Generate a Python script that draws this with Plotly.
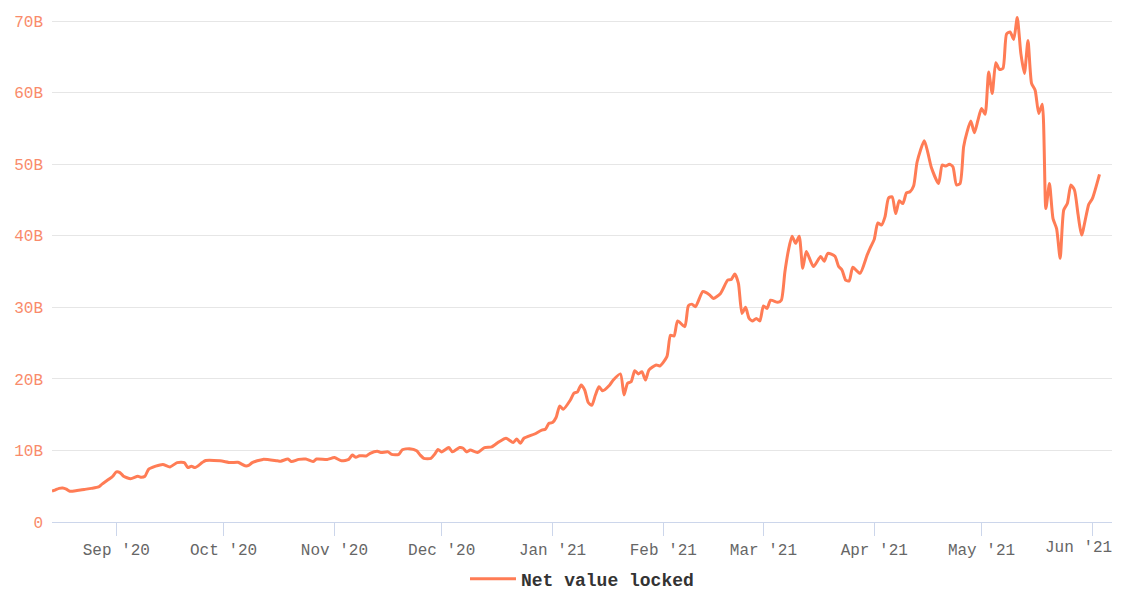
import plotly.graph_objects as go

dates = [
    "2020-08-14", "2020-08-15", "2020-08-16", "2020-08-17", "2020-08-18", "2020-08-19",
    "2020-08-21", "2020-08-23", "2020-08-25", "2020-08-27", "2020-08-28", "2020-08-30",
    "2020-08-31", "2020-09-01", "2020-09-02", "2020-09-03", "2020-09-05", "2020-09-07",
    "2020-09-08", "2020-09-09", "2020-09-10", "2020-09-12", "2020-09-14", "2020-09-16",
    "2020-09-18", "2020-09-20", "2020-09-21", "2020-09-22", "2020-09-23", "2020-09-25",
    "2020-09-26", "2020-09-30", "2020-10-03", "2020-10-05", "2020-10-07", "2020-10-08",
    "2020-10-09", "2020-10-12", "2020-10-16", "2020-10-17", "2020-10-19", "2020-10-20",
    "2020-10-22", "2020-10-24", "2020-10-26", "2020-10-27", "2020-10-30", "2020-11-01",
    "2020-11-03", "2020-11-05", "2020-11-06", "2020-11-07", "2020-11-08", "2020-11-10",
    "2020-11-11", "2020-11-13", "2020-11-14", "2020-11-16", "2020-11-17", "2020-11-19",
    "2020-11-20", "2020-11-22", "2020-11-24", "2020-11-25", "2020-11-26", "2020-11-28",
    "2020-11-29", "2020-11-30", "2020-12-01", "2020-12-03", "2020-12-04", "2020-12-06",
    "2020-12-07", "2020-12-08", "2020-12-09", "2020-12-11", "2020-12-13", "2020-12-15",
    "2020-12-17", "2020-12-19", "2020-12-21", "2020-12-22", "2020-12-23", "2020-12-24",
    "2020-12-27", "2020-12-29", "2020-12-30", "2020-12-31", "2021-01-01", "2021-01-02",
    "2021-01-03", "2021-01-04", "2021-01-06", "2021-01-07", "2021-01-08", "2021-01-09",
    "2021-01-10", "2021-01-11", "2021-01-12", "2021-01-13", "2021-01-14", "2021-01-15",
    "2021-01-17", "2021-01-18", "2021-01-20", "2021-01-21", "2021-01-22", "2021-01-23",
    "2021-01-24", "2021-01-25", "2021-01-26", "2021-01-27", "2021-01-28", "2021-01-30",
    "2021-01-31", "2021-02-02", "2021-02-03", "2021-02-04", "2021-02-05", "2021-02-07",
    "2021-02-08", "2021-02-09", "2021-02-10", "2021-02-12", "2021-02-13", "2021-02-14",
    "2021-02-15", "2021-02-17", "2021-02-19", "2021-02-20", "2021-02-21", "2021-02-22",
    "2021-02-23", "2021-02-24", "2021-02-25", "2021-02-26", "2021-02-27", "2021-02-28",
    "2021-03-01", "2021-03-02", "2021-03-03", "2021-03-05", "2021-03-06", "2021-03-07",
    "2021-03-08", "2021-03-09", "2021-03-10", "2021-03-11", "2021-03-12", "2021-03-13",
    "2021-03-15", "2021-03-17", "2021-03-18", "2021-03-19", "2021-03-21", "2021-03-22",
    "2021-03-23", "2021-03-24", "2021-03-25", "2021-03-26", "2021-03-28", "2021-03-30",
    "2021-03-31", "2021-04-01", "2021-04-02", "2021-04-03", "2021-04-04", "2021-04-05",
    "2021-04-06", "2021-04-07", "2021-04-08", "2021-04-09", "2021-04-10", "2021-04-11",
    "2021-04-12", "2021-04-13", "2021-04-15", "2021-04-16", "2021-04-17", "2021-04-19",
    "2021-04-20", "2021-04-21", "2021-04-22", "2021-04-23", "2021-04-24", "2021-04-25",
    "2021-04-26", "2021-04-27", "2021-04-28", "2021-04-29", "2021-04-30", "2021-05-01",
    "2021-05-02", "2021-05-03", "2021-05-04", "2021-05-05", "2021-05-06", "2021-05-07",
    "2021-05-08", "2021-05-09", "2021-05-10", "2021-05-11", "2021-05-12", "2021-05-13",
    "2021-05-14", "2021-05-15", "2021-05-16", "2021-05-17", "2021-05-18", "2021-05-19",
    "2021-05-20", "2021-05-21", "2021-05-22", "2021-05-23", "2021-05-24", "2021-05-25",
    "2021-05-26", "2021-05-27", "2021-05-28", "2021-05-29", "2021-05-31", "2021-06-01",
    "2021-06-03",
]

net_value_locked_b = [
    4.3, 4.5, 4.7, 4.75, 4.6, 4.3,
    4.4, 4.55, 4.7, 4.9, 5.3, 6.0,
    6.4, 7.0, 6.9, 6.4, 6.05, 6.4,
    6.25, 6.4, 7.35, 7.8, 8.05, 7.7,
    8.3, 8.3, 7.6, 7.8, 7.6, 8.3,
    8.6, 8.55, 8.3, 8.35, 7.85, 7.9,
    8.3, 8.75, 8.55, 8.5, 8.8, 8.45,
    8.75, 8.8, 8.45, 8.8, 8.75, 9.0,
    8.55, 8.75, 9.35, 9.05, 9.25, 9.25,
    9.6, 9.9, 9.7, 9.8, 9.45, 9.45,
    10.1, 10.25, 9.95, 9.35, 8.9, 8.9,
    9.45, 10.15, 9.8, 10.4, 9.8, 10.4,
    10.3, 9.8, 10.05, 9.7, 10.4, 10.5,
    11.2, 11.7, 11.1, 11.6, 11.0, 11.7,
    12.3, 12.85, 12.95, 13.8, 13.9, 14.6,
    16.2, 15.75, 17.05, 18.0, 18.2, 19.15,
    18.45, 16.7, 16.3, 17.75, 18.9, 18.35,
    19.15, 19.85, 20.7, 17.75, 19.4, 19.6,
    21.15, 20.7, 21.0, 19.85, 21.25, 21.95,
    21.8, 23.1, 26.1, 26.0, 28.1, 27.3,
    30.2, 30.45, 30.1, 32.2, 32.05, 31.7,
    31.25, 31.95, 33.8, 33.9, 34.65, 33.35,
    29.15, 30.0, 28.45, 28.1, 28.45, 28.1,
    30.2, 29.85, 31.0, 30.7, 31.0, 34.95,
    38.0, 39.95, 38.95, 39.95, 35.45, 37.8,
    35.7, 37.1, 36.45, 37.55, 37.15, 35.75,
    35.2, 33.8, 33.7, 35.6, 34.75, 37.3,
    38.45, 39.5, 41.8, 41.5, 42.65, 45.3,
    45.45, 43.1, 44.9, 44.5, 46.0, 46.15,
    46.95, 50.35, 53.3, 51.6, 49.5, 47.3,
    49.9, 49.75, 50.0, 49.65, 47.1, 47.3,
    52.45, 54.6, 56.05, 54.4, 56.15, 57.8,
    57.0, 62.9, 59.9, 64.2, 63.25, 63.4,
    68.2, 68.5, 67.45, 70.5, 65.5, 62.7,
    67.3, 61.3, 60.35, 57.1, 58.4, 43.8,
    47.3, 42.4, 41.0, 36.85, 43.6, 44.5,
    47.1, 46.4, 43.0, 40.1, 44.4, 45.2,
    48.6,
]

x_tick_vals = ["2020-09-01", "2020-10-01", "2020-11-01", "2020-12-01", "2021-01-01",
               "2021-02-01", "2021-03-01", "2021-04-01", "2021-05-01", "2021-06-01"]
x_tick_text = ["Sep '20", "Oct '20", "Nov '20", "Dec '20", "Jan '21",
               "Feb '21", "Mar '21", "Apr '21", "May '21", "Jun '21"]
y_tick_vals = [0, 10, 20, 30, 40, 50, 60, 70]
y_tick_text = ["0", "10B", "20B", "30B", "40B", "50B", "60B", "70B"]
series_name = "Net value locked"

LINE = "#ff7c55"
FONT = "Liberation Mono, Courier New, monospace"
TICK_FONT = dict(family=FONT, size=16, color="#666666")

# the last month label is pulled inside the chart edge, as in the reference
axis_labels = x_tick_text[:-1] + [""]

fig = go.Figure()
fig.add_trace(go.Scatter(
    x=dates, y=net_value_locked_b, mode="lines", name=series_name,
    line=dict(color=LINE, width=3, shape="spline", smoothing=0.6),
    showlegend=True,
))

fig.add_annotation(
    x=x_tick_vals[-1], xref="x", y=0, yref="paper",
    text=x_tick_text[-1], showarrow=False,
    xanchor="center", yanchor="middle", xshift=-14, yshift=-26,
    font=TICK_FONT,
)

fig.update_layout(
    width=1127, height=598,
    margin=dict(l=44, r=23, t=6, b=84, autoexpand=False),
    paper_bgcolor="white", plot_bgcolor="white",
    font=dict(family=FONT, size=16, color="#666666"),
    showlegend=True,
    legend=dict(orientation="h", x=0.5, xanchor="center",
                yref="container", y=1 - 571 / 598, yanchor="middle",
                font=dict(family=FONT, size=18, color="#333333", weight="bold"),
                itemwidth=46),
    xaxis=dict(
        type="date", range=["2020-08-14", "2021-06-06 12:00"],
        tickvals=x_tick_vals, ticktext=axis_labels,
        ticks="outside", ticklen=13, tickcolor="#ccd6eb", tickwidth=1,
        showline=True, linecolor="#ccd6eb", linewidth=1,
        showgrid=False, zeroline=False, automargin=False,
        tickfont=TICK_FONT,
    ),
    yaxis=dict(
        range=[0, 71], tickvals=y_tick_vals, ticktext=y_tick_text,
        showgrid=True, gridcolor="#e6e6e6", gridwidth=1, zeroline=False,
        showline=False, ticks="", ticklabelstandoff=8, automargin=False,
        tickfont=dict(family=FONT, size=16, color="#f98b6b"),
    ),
)

fig.write_html("out.html")
